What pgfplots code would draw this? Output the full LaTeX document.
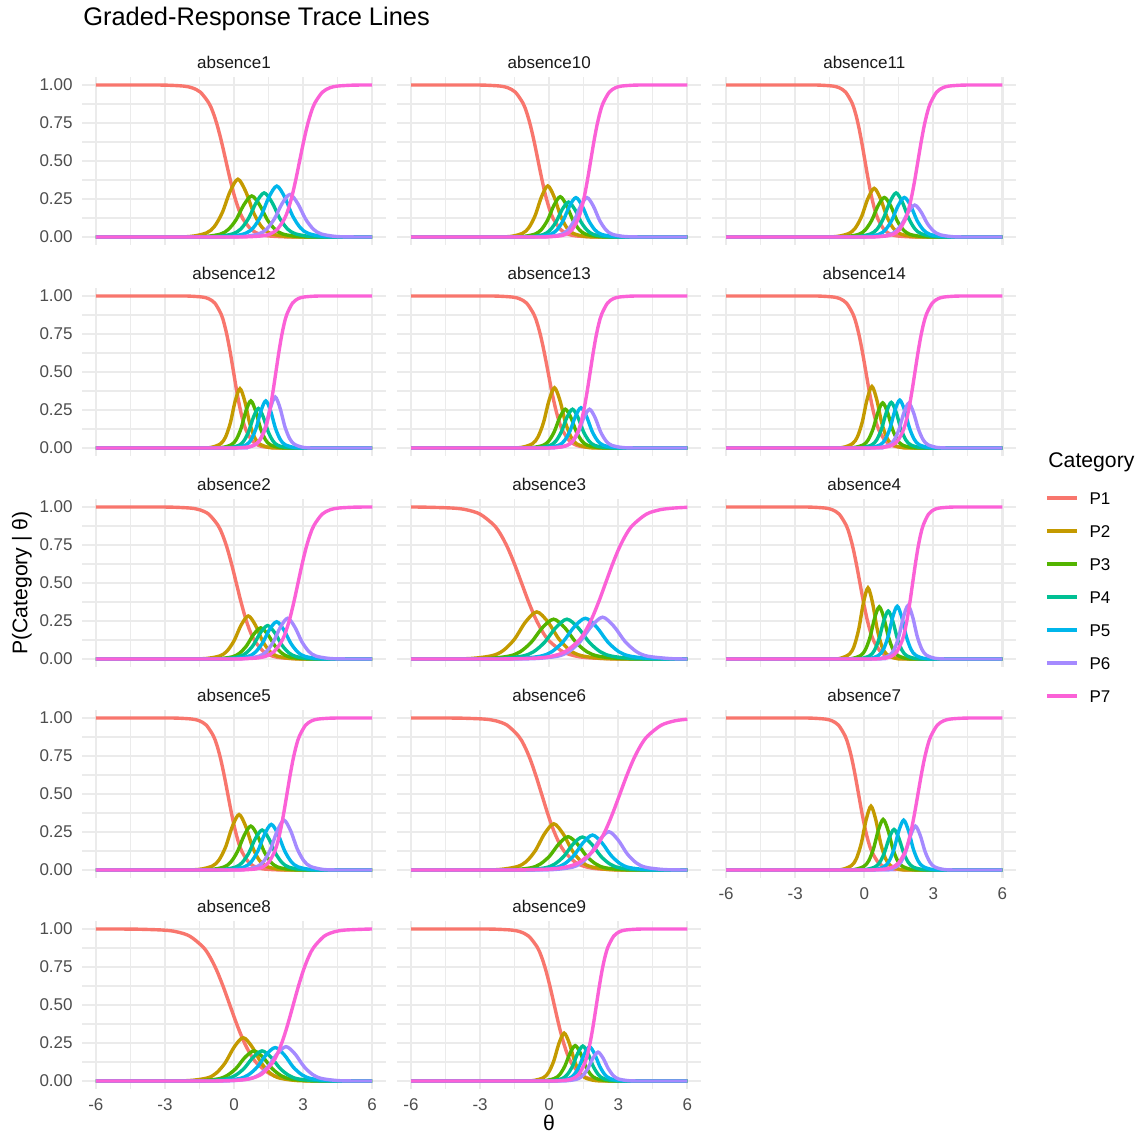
\documentclass[border=0pt]{standalone}
\usepackage{fontspec}
\setmainfont{Liberation Sans}
\usepackage{pgfplots}
\pgfplotsset{compat=1.18}

\definecolor{c1}{HTML}{F8766D}
\definecolor{c2}{HTML}{C49A00}
\definecolor{c3}{HTML}{53B400}
\definecolor{c4}{HTML}{00C094}
\definecolor{c5}{HTML}{00B6EB}
\definecolor{c6}{HTML}{A58AFF}
\definecolor{c7}{HTML}{FB61D7}
\definecolor{gridc}{HTML}{EBEBEB}
\definecolor{tickc}{HTML}{4D4D4D}
\definecolor{stripc}{HTML}{1A1A1A}

\pgfplotsset{
  panel/.style={
    scale only axis, width=152pt, height=83.6pt, anchor=north west,
    xmin=-6.6, xmax=6.6, ymin=-0.05, ymax=1.05,
    axis line style={draw=none}, tick style={draw=none},
    major tick length=0pt, minor tick length=0pt,
    xtick={-6,-3,0,3,6}, ytick={0,0.25,0.5,0.75,1},
    minor xtick={-4.5,-1.5,1.5,4.5}, minor ytick={0.125,0.375,0.625,0.875},
    grid=both,
    major grid style={line width=1.1pt, draw=gridc},
    minor grid style={line width=0.55pt, draw=gridc},
    xticklabels={}, yticklabels={},
    tick label style={font=\fontsize{8.5}{10}\selectfont, text=tickc, inner sep=0pt},
    yticklabel style={xshift=-4.5pt},
    xticklabel style={yshift=-4.7pt},
    title style={at={(0.5,1)}, anchor=base, yshift=-1.3pt, inner sep=0pt,
      font=\fontsize{8.5}{10}\selectfont, text=stripc},
  },
  ylab/.style={yticklabels={0.00,0.25,0.50,0.75,1.00}},
  xlab/.style={xticklabels={-6,-3,0,3,6}},
  p1/.style={color=c1, line width=1.7pt, smooth, mark=none},
  p2/.style={color=c2, line width=1.7pt, smooth, mark=none},
  p3/.style={color=c3, line width=1.7pt, smooth, mark=none},
  p4/.style={color=c4, line width=1.7pt, smooth, mark=none},
  p5/.style={color=c5, line width=1.7pt, smooth, mark=none},
  p6/.style={color=c6, line width=1.7pt, smooth, mark=none},
  p7/.style={color=c7, line width=1.7pt, smooth, mark=none},
}

\begin{document}
\begin{tikzpicture}
\path[use as bounding box] (0pt,0pt) rectangle (570pt,-567.5pt);
\node[anchor=west, inner sep=0pt, font=\fontsize{12.7}{15}\selectfont] at (41.5pt,-9.5pt) {Graded-Response Trace Lines};
\node[rotate=90, inner sep=0pt, font=\fontsize{10.6}{12}\selectfont] at (11pt,-291.5pt) {P(Category | θ)};
\node[inner sep=0pt, font=\fontsize{10.6}{12}\selectfont] at (274.5pt,-561.5pt) {θ};
\node[anchor=west, inner sep=0pt, font=\fontsize{10.6}{12}\selectfont] at (524pt,-231pt) {Category};

% row 1
\begin{axis}[panel, ylab, at={(41pt,-38.7pt)}, title={absence1}]
\addplot[p1] coordinates {(-6,1) (-3.68,1) (-2.94,0.999) (-2.20,0.993) (-1.83,0.982) (-1.46,0.953) (-1.09,0.881) (-0.905,0.818) (-0.72,0.731) (-0.535,0.622) (-0.35,0.5) (-0.165,0.378) (0.02,0.269) (0.205,0.182) (0.39,0.119) (0.76,0.047) (1.13,0.018) (1.50,0.007) (2.24,0.001) (2.98,0) (6,0)};
\addplot[p2] coordinates {(-6,0) (-2.89,0) (-1.87,0.004) (-1.19,0.027) (-0.85,0.069) (-0.51,0.160) (-0.17,0.299) (0.17,0.380) (0.51,0.299) (0.85,0.160) (1.19,0.069) (1.53,0.027) (2.21,0.004) (3.23,0) (6,0)};
\addplot[p3] coordinates {(-6,0) (-2.29,0) (-1.27,0.003) (-0.59,0.019) (-0.25,0.049) (0.09,0.113) (0.43,0.212) (0.77,0.270) (1.11,0.212) (1.45,0.113) (1.79,0.049) (2.13,0.019) (2.81,0.003) (3.83,0) (6,0)};
\addplot[p4] coordinates {(-6,0) (-1.75,0) (-0.73,0.003) (-0.05,0.021) (0.29,0.052) (0.63,0.122) (0.97,0.228) (1.31,0.290) (1.65,0.228) (1.99,0.122) (2.33,0.052) (2.67,0.021) (3.35,0.003) (4.37,0) (6,0)};
\addplot[p5] coordinates {(-6,0) (-1.20,0) (-0.18,0.003) (0.50,0.024) (0.84,0.061) (1.18,0.141) (1.52,0.263) (1.86,0.335) (2.20,0.263) (2.54,0.141) (2.88,0.061) (3.22,0.024) (3.90,0.003) (4.92,0) (6,0)};
\addplot[p6] coordinates {(-6,0) (-0.63,0) (0.39,0.003) (1.07,0.020) (1.41,0.051) (1.75,0.118) (2.09,0.220) (2.43,0.280) (2.77,0.220) (3.11,0.118) (3.45,0.051) (3.79,0.020) (4.47,0.003) (5.49,0) (6,0)};
\addplot[p7] coordinates {(-6,0) (-0.12,0) (0.54,0.001) (1.20,0.007) (1.53,0.018) (1.86,0.047) (2.19,0.119) (2.355,0.182) (2.52,0.269) (2.685,0.378) (2.85,0.5) (3.015,0.622) (3.18,0.731) (3.345,0.818) (3.51,0.881) (3.84,0.953) (4.17,0.982) (4.50,0.993) (5.16,0.999) (5.82,1) (6,1)};
\end{axis}

\begin{axis}[panel, at={(198.6pt,-38.7pt)}, title={absence10}]
\addplot[p1] coordinates {(-6,1) (-3.45,1) (-2.79,0.999) (-2.13,0.993) (-1.80,0.982) (-1.47,0.953) (-1.14,0.881) (-0.975,0.818) (-0.81,0.731) (-0.645,0.622) (-0.48,0.5) (-0.315,0.378) (-0.15,0.269) (0.015,0.182) (0.18,0.119) (0.51,0.047) (0.84,0.018) (1.17,0.007) (1.83,0.001) (2.49,0) (6,0)};
\addplot[p2] coordinates {(-6,0) (-2.535,0) (-1.71,0.003) (-1.16,0.024) (-0.885,0.061) (-0.61,0.141) (-0.335,0.264) (-0.06,0.336) (0.215,0.264) (0.49,0.141) (0.765,0.061) (1.04,0.024) (1.59,0.003) (2.415,0) (6,0)};
\addplot[p3] coordinates {(-6,0) (-1.995,0) (-1.17,0.003) (-0.62,0.019) (-0.345,0.048) (-0.07,0.111) (0.205,0.208) (0.48,0.265) (0.755,0.208) (1.03,0.111) (1.305,0.048) (1.58,0.019) (2.13,0.003) (2.955,0) (6,0)};
\addplot[p4] coordinates {(-6,0) (-1.635,0) (-0.81,0.002) (-0.26,0.016) (0.015,0.042) (0.29,0.097) (0.565,0.181) (0.84,0.230) (1.115,0.181) (1.39,0.097) (1.665,0.042) (1.94,0.016) (2.49,0.002) (3.315,0) (6,0)};
\addplot[p5] coordinates {(-6,0) (-1.315,0) (-0.49,0.003) (0.06,0.018) (0.335,0.047) (0.61,0.109) (0.885,0.204) (1.16,0.259) (1.435,0.204) (1.71,0.109) (1.985,0.047) (2.26,0.018) (2.81,0.003) (3.635,0) (6,0)};
\addplot[p6] coordinates {(-6,0) (-0.835,0) (-0.01,0.003) (0.54,0.018) (0.815,0.047) (1.09,0.109) (1.365,0.204) (1.64,0.259) (1.915,0.204) (2.19,0.109) (2.465,0.047) (2.74,0.018) (3.29,0.003) (4.115,0) (6,0)};
\addplot[p7] coordinates {(-6,0) (-0.63,0) (-0.09,0.001) (0.45,0.007) (0.72,0.018) (0.99,0.047) (1.26,0.119) (1.395,0.182) (1.53,0.269) (1.665,0.378) (1.80,0.5) (1.935,0.622) (2.07,0.731) (2.205,0.818) (2.34,0.881) (2.61,0.953) (2.88,0.982) (3.15,0.993) (3.69,0.999) (4.23,1) (6,1)};
\end{axis}

\begin{axis}[panel, at={(356.15pt,-38.7pt)}, title={absence11}]
\addplot[p1] coordinates {(-6,1) (-2.49,1) (-1.93,0.999) (-1.37,0.993) (-1.09,0.982) (-0.81,0.953) (-0.53,0.881) (-0.39,0.818) (-0.25,0.731) (-0.11,0.622) (0.03,0.5) (0.17,0.378) (0.31,0.269) (0.45,0.182) (0.59,0.119) (0.87,0.047) (1.15,0.018) (1.43,0.007) (1.99,0.001) (2.55,0) (6,0)};
\addplot[p2] coordinates {(-6,0) (-2.045,0) (-1.22,0.003) (-0.67,0.023) (-0.395,0.058) (-0.12,0.134) (0.155,0.252) (0.43,0.320) (0.705,0.252) (0.98,0.134) (1.255,0.058) (1.53,0.023) (2.08,0.003) (2.905,0) (6,0)};
\addplot[p3] coordinates {(-6,0) (-1.605,0) (-0.78,0.003) (-0.23,0.018) (0.045,0.047) (0.32,0.109) (0.595,0.205) (0.87,0.260) (1.145,0.205) (1.42,0.109) (1.695,0.047) (1.97,0.018) (2.52,0.003) (3.345,0) (6,0)};
\addplot[p4] coordinates {(-6,0) (-1.095,0) (-0.27,0.003) (0.28,0.021) (0.555,0.052) (0.83,0.122) (1.105,0.228) (1.38,0.290) (1.655,0.228) (1.93,0.122) (2.205,0.052) (2.48,0.021) (3.03,0.003) (3.855,0) (6,0)};
\addplot[p5] coordinates {(-6,0) (-0.735,0) (0.09,0.003) (0.64,0.018) (0.915,0.047) (1.19,0.109) (1.465,0.205) (1.74,0.260) (2.015,0.205) (2.29,0.109) (2.565,0.047) (2.84,0.018) (3.39,0.003) (4.215,0) (6,0)};
\addplot[p6] coordinates {(-6,0) (-0.285,0) (0.54,0.002) (1.09,0.015) (1.365,0.038) (1.64,0.088) (1.915,0.165) (2.19,0.210) (2.465,0.165) (2.74,0.088) (3.015,0.038) (3.29,0.015) (3.84,0.002) (4.665,0) (6,0)};
\addplot[p7] coordinates {(-6,0) (-0.10,0) (0.44,0.001) (0.98,0.007) (1.25,0.018) (1.52,0.047) (1.79,0.119) (1.925,0.182) (2.06,0.269) (2.195,0.378) (2.33,0.5) (2.465,0.622) (2.60,0.731) (2.735,0.818) (2.87,0.881) (3.14,0.953) (3.41,0.982) (3.68,0.993) (4.22,0.999) (4.76,1) (6,1)};
\end{axis}

% row 2
\begin{axis}[panel, ylab, at={(41pt,-144.2pt)}, title={absence12}]
\addplot[p1] coordinates {(-6,1) (-2.45,1) (-1.91,0.999) (-1.37,0.993) (-1.10,0.982) (-0.83,0.953) (-0.56,0.881) (-0.425,0.818) (-0.29,0.731) (-0.155,0.622) (-0.02,0.5) (0.115,0.378) (0.25,0.269) (0.385,0.182) (0.52,0.119) (0.79,0.047) (1.06,0.018) (1.33,0.007) (1.87,0.001) (2.41,0) (6,0)};
\addplot[p2] coordinates {(-6,0) (-1.63,0) (-1.00,0.004) (-0.58,0.028) (-0.37,0.071) (-0.16,0.164) (0.05,0.307) (0.26,0.390) (0.47,0.307) (0.68,0.164) (0.89,0.071) (1.10,0.028) (1.52,0.004) (2.15,0) (6,0)};
\addplot[p3] coordinates {(-6,0) (-1.16,0) (-0.53,0.003) (-0.11,0.022) (0.10,0.056) (0.31,0.130) (0.52,0.244) (0.73,0.310) (0.94,0.244) (1.15,0.130) (1.36,0.056) (1.57,0.022) (1.99,0.003) (2.62,0) (6,0)};
\addplot[p4] coordinates {(-6,0) (-0.83,0) (-0.20,0.003) (0.22,0.018) (0.43,0.047) (0.64,0.109) (0.85,0.205) (1.06,0.260) (1.27,0.205) (1.48,0.109) (1.69,0.047) (1.90,0.018) (2.32,0.003) (2.95,0) (6,0)};
\addplot[p5] coordinates {(-6,0) (-0.51,0) (0.12,0.003) (0.54,0.022) (0.75,0.056) (0.96,0.130) (1.17,0.244) (1.38,0.310) (1.59,0.244) (1.80,0.130) (2.01,0.056) (2.22,0.022) (2.64,0.003) (3.27,0) (6,0)};
\addplot[p6] coordinates {(-6,0) (-0.10,0) (0.53,0.003) (0.95,0.024) (1.16,0.061) (1.37,0.141) (1.58,0.263) (1.79,0.335) (2.00,0.263) (2.21,0.141) (2.42,0.061) (2.63,0.024) (3.05,0.003) (3.68,0) (6,0)};
\addplot[p7] coordinates {(-6,0) (-0.34,0) (0.14,0.001) (0.62,0.007) (0.86,0.018) (1.10,0.047) (1.34,0.119) (1.46,0.182) (1.58,0.269) (1.70,0.378) (1.82,0.5) (1.94,0.622) (2.06,0.731) (2.18,0.818) (2.30,0.881) (2.54,0.953) (2.78,0.982) (3.02,0.993) (3.50,0.999) (3.98,1) (6,1)};
\end{axis}

\begin{axis}[panel, at={(198.6pt,-144.2pt)}, title={absence13}]
\addplot[p1] coordinates {(-6,1) (-2.84,1) (-2.22,0.999) (-1.60,0.993) (-1.29,0.982) (-0.98,0.953) (-0.67,0.881) (-0.515,0.818) (-0.36,0.731) (-0.205,0.622) (-0.05,0.5) (0.105,0.378) (0.26,0.269) (0.415,0.182) (0.57,0.119) (0.88,0.047) (1.19,0.018) (1.50,0.007) (2.12,0.001) (2.74,0) (6,0)};
\addplot[p2] coordinates {(-6,0) (-1.93,0) (-1.21,0.004) (-0.73,0.028) (-0.49,0.072) (-0.25,0.166) (-0.01,0.311) (0.23,0.396) (0.47,0.311) (0.71,0.166) (0.95,0.072) (1.19,0.028) (1.67,0.004) (2.39,0) (6,0)};
\addplot[p3] coordinates {(-6,0) (-1.46,0) (-0.74,0.003) (-0.26,0.018) (-0.02,0.046) (0.22,0.107) (0.46,0.201) (0.70,0.255) (0.94,0.201) (1.18,0.107) (1.42,0.046) (1.66,0.018) (2.14,0.003) (2.86,0) (6,0)};
\addplot[p4] coordinates {(-6,0) (-1.15,0) (-0.43,0.003) (0.05,0.018) (0.29,0.046) (0.53,0.107) (0.77,0.201) (1.01,0.255) (1.25,0.201) (1.49,0.107) (1.73,0.046) (1.97,0.018) (2.45,0.003) (3.17,0) (6,0)};
\addplot[p5] coordinates {(-6,0) (-0.78,0) (-0.06,0.003) (0.42,0.019) (0.66,0.048) (0.90,0.111) (1.14,0.208) (1.38,0.265) (1.62,0.208) (1.86,0.111) (2.10,0.048) (2.34,0.019) (2.82,0.003) (3.54,0) (6,0)};
\addplot[p6] coordinates {(-6,0) (-0.41,0) (0.31,0.003) (0.79,0.018) (1.03,0.046) (1.27,0.107) (1.51,0.201) (1.75,0.255) (1.99,0.201) (2.23,0.107) (2.47,0.046) (2.71,0.018) (3.19,0.003) (3.91,0) (6,0)};
\addplot[p7] coordinates {(-6,0) (-0.47,0) (0.03,0.001) (0.53,0.007) (0.78,0.018) (1.03,0.047) (1.28,0.119) (1.405,0.182) (1.53,0.269) (1.655,0.378) (1.78,0.5) (1.905,0.622) (2.03,0.731) (2.155,0.818) (2.28,0.881) (2.53,0.953) (2.78,0.982) (3.03,0.993) (3.53,0.999) (4.03,1) (6,1)};
\end{axis}

\begin{axis}[panel, at={(356.15pt,-144.2pt)}, title={absence14}]
\addplot[p1] coordinates {(-6,1) (-2.45,1) (-1.89,0.999) (-1.33,0.993) (-1.05,0.982) (-0.77,0.953) (-0.49,0.881) (-0.35,0.818) (-0.21,0.731) (-0.07,0.622) (0.07,0.5) (0.21,0.378) (0.35,0.269) (0.49,0.182) (0.63,0.119) (0.91,0.047) (1.19,0.018) (1.47,0.007) (2.03,0.001) (2.59,0) (6,0)};
\addplot[p2] coordinates {(-6,0) (-1.56,0) (-0.93,0.004) (-0.51,0.029) (-0.30,0.073) (-0.09,0.170) (0.12,0.319) (0.33,0.405) (0.54,0.319) (0.75,0.170) (0.96,0.073) (1.17,0.029) (1.59,0.004) (2.22,0) (6,0)};
\addplot[p3] coordinates {(-6,0) (-1.09,0) (-0.46,0.003) (-0.04,0.021) (0.17,0.054) (0.38,0.125) (0.59,0.234) (0.80,0.297) (1.01,0.234) (1.22,0.125) (1.43,0.054) (1.64,0.021) (2.06,0.003) (2.69,0) (6,0)};
\addplot[p4] coordinates {(-6,0) (-0.72,0) (-0.09,0.003) (0.33,0.021) (0.54,0.054) (0.75,0.126) (0.96,0.236) (1.17,0.300) (1.38,0.236) (1.59,0.126) (1.80,0.054) (2.01,0.021) (2.43,0.003) (3.06,0) (6,0)};
\addplot[p5] coordinates {(-6,0) (-0.35,0) (0.28,0.003) (0.70,0.022) (0.91,0.057) (1.12,0.132) (1.33,0.248) (1.54,0.315) (1.75,0.248) (1.96,0.132) (2.17,0.057) (2.38,0.022) (2.80,0.003) (3.43,0) (6,0)};
\addplot[p6] coordinates {(-6,0) (0.04,0) (0.67,0.003) (1.09,0.021) (1.30,0.053) (1.51,0.124) (1.72,0.232) (1.93,0.295) (2.14,0.232) (2.35,0.124) (2.56,0.053) (2.77,0.021) (3.19,0.003) (3.82,0) (6,0)};
\addplot[p7] coordinates {(-6,0) (-0.05,0) (0.45,0.001) (0.95,0.007) (1.20,0.018) (1.45,0.047) (1.70,0.119) (1.825,0.182) (1.95,0.269) (2.075,0.378) (2.20,0.5) (2.325,0.622) (2.45,0.731) (2.575,0.818) (2.70,0.881) (2.95,0.953) (3.20,0.982) (3.45,0.993) (3.95,0.999) (4.45,1) (6,1)};
\end{axis}

% row 3
\begin{axis}[panel, ylab, at={(41pt,-249.7pt)}, title={absence2}]
\addplot[p1] coordinates {(-6,1) (-3.50,1) (-2.70,0.999) (-1.90,0.993) (-1.50,0.982) (-1.10,0.953) (-0.70,0.881) (-0.50,0.818) (-0.30,0.731) (-0.10,0.622) (0.10,0.5) (0.30,0.378) (0.50,0.269) (0.70,0.182) (0.90,0.119) (1.30,0.047) (1.70,0.018) (2.10,0.007) (2.90,0.001) (3.70,0) (6,0)};
\addplot[p2] coordinates {(-6,0) (-2.17,0) (-1.24,0.003) (-0.62,0.020) (-0.31,0.051) (0.00,0.119) (0.31,0.223) (0.62,0.283) (0.93,0.223) (1.24,0.119) (1.55,0.051) (1.86,0.020) (2.48,0.003) (3.41,0) (6,0)};
\addplot[p3] coordinates {(-6,0) (-1.63,0) (-0.70,0.002) (-0.08,0.014) (0.23,0.037) (0.54,0.086) (0.85,0.161) (1.16,0.205) (1.47,0.161) (1.78,0.086) (2.09,0.037) (2.40,0.014) (3.02,0.002) (3.95,0) (6,0)};
\addplot[p4] coordinates {(-6,0) (-1.33,0) (-0.40,0.002) (0.22,0.016) (0.53,0.040) (0.84,0.092) (1.15,0.173) (1.46,0.220) (1.77,0.173) (2.08,0.092) (2.39,0.040) (2.70,0.016) (3.32,0.002) (4.25,0) (6,0)};
\addplot[p5] coordinates {(-6,0) (-0.94,0) (-0.01,0.002) (0.61,0.017) (0.92,0.044) (1.23,0.103) (1.54,0.193) (1.85,0.245) (2.16,0.193) (2.47,0.103) (2.78,0.044) (3.09,0.017) (3.71,0.002) (4.64,0) (6,0)};
\addplot[p6] coordinates {(-6,0) (-0.46,0) (0.47,0.003) (1.09,0.019) (1.40,0.048) (1.71,0.113) (2.02,0.211) (2.33,0.268) (2.64,0.211) (2.95,0.113) (3.26,0.048) (3.57,0.019) (4.19,0.003) (5.12,0) (6,0)};
\addplot[p7] coordinates {(-6,0) (-0.37,0) (0.33,0.001) (1.03,0.007) (1.38,0.018) (1.73,0.047) (2.08,0.119) (2.255,0.182) (2.43,0.269) (2.605,0.378) (2.78,0.5) (2.955,0.622) (3.13,0.731) (3.305,0.818) (3.48,0.881) (3.83,0.953) (4.18,0.982) (4.53,0.993) (5.23,0.999) (5.93,1) (6,1)};
\end{axis}

\begin{axis}[panel, at={(198.6pt,-249.7pt)}, title={absence3}]
\addplot[p1] coordinates {(-6,1) (-5.40,0.999) (-4.20,0.993) (-3.60,0.982) (-3.00,0.953) (-2.40,0.881) (-2.10,0.818) (-1.80,0.731) (-1.50,0.622) (-1.20,0.5) (-0.90,0.378) (-0.60,0.269) (-0.30,0.182) (0.00,0.119) (0.60,0.047) (1.20,0.018) (1.80,0.007) (3.00,0.001) (4.20,0) (6,0)};
\addplot[p2] coordinates {(-6,0) (-4.905,0) (-3.45,0.003) (-2.48,0.022) (-1.995,0.056) (-1.51,0.130) (-1.025,0.244) (-0.54,0.310) (-0.055,0.244) (0.43,0.130) (0.915,0.056) (1.40,0.022) (2.37,0.003) (3.825,0) (6,0)};
\addplot[p3] coordinates {(-6,0) (-4.175,0) (-2.72,0.003) (-1.75,0.019) (-1.265,0.047) (-0.78,0.110) (-0.295,0.206) (0.19,0.262) (0.675,0.206) (1.16,0.110) (1.645,0.047) (2.13,0.019) (3.10,0.003) (4.555,0) (6,0)};
\addplot[p4] coordinates {(-6,0) (-3.595,0) (-2.14,0.003) (-1.17,0.019) (-0.685,0.047) (-0.20,0.110) (0.285,0.206) (0.77,0.262) (1.255,0.206) (1.74,0.110) (2.225,0.047) (2.71,0.019) (3.68,0.003) (5.135,0) (6,0)};
\addplot[p5] coordinates {(-6,0) (-2.795,0) (-1.34,0.003) (-0.37,0.019) (0.115,0.048) (0.60,0.113) (1.085,0.211) (1.57,0.268) (2.055,0.211) (2.54,0.113) (3.025,0.048) (3.51,0.019) (4.48,0.003) (6,0)};
\addplot[p6] coordinates {(-6,0) (-2.045,0) (-0.59,0.003) (0.38,0.019) (0.865,0.050) (1.35,0.116) (1.835,0.216) (2.32,0.275) (2.805,0.216) (3.29,0.116) (3.775,0.050) (4.26,0.019) (5.23,0.003) (6,0)};
\addplot[p7] coordinates {(-6,0) (-2.86,0) (-1.68,0.001) (-0.50,0.007) (0.09,0.018) (0.68,0.047) (1.27,0.119) (1.565,0.182) (1.86,0.269) (2.155,0.378) (2.45,0.5) (2.745,0.622) (3.04,0.731) (3.335,0.818) (3.63,0.881) (4.22,0.953) (4.81,0.982) (5.40,0.993) (6,0.998)};
\end{axis}

\begin{axis}[panel, at={(356.15pt,-249.7pt)}, title={absence4},
  legend entries={P1,P2,P3,P4,P5,P6,P7},
  legend cell align=left,
  legend style={draw=none, fill=none, at={(1.095,1.0455)}, anchor=north west,
    inner sep=0pt, outer sep=0pt, row sep=10.3pt, column sep=5.5pt,
    font=\fontsize{8.5}{10}\selectfont,
    nodes={inner sep=0pt, text height=6.2pt, text depth=0pt}},
  legend image code/.code={\draw[#1, sharp plot] (0pt,0pt) -- (15pt,0pt);}]
\addplot[p1] coordinates {(-6,1) (-2.89,1) (-2.29,0.999) (-1.69,0.993) (-1.39,0.982) (-1.09,0.953) (-0.79,0.881) (-0.64,0.818) (-0.49,0.731) (-0.34,0.622) (-0.19,0.5) (-0.04,0.378) (0.11,0.269) (0.26,0.182) (0.41,0.119) (0.71,0.047) (1.01,0.018) (1.31,0.007) (1.91,0.001) (2.51,0) (6,0)};
\addplot[p2] coordinates {(-6,0) (-1.64,0) (-1.04,0.005) (-0.64,0.033) (-0.44,0.085) (-0.24,0.197) (-0.04,0.368) (0.16,0.468) (0.36,0.368) (0.56,0.197) (0.76,0.085) (0.96,0.033) (1.36,0.005) (1.96,0) (6,0)};
\addplot[p3] coordinates {(-6,0) (-1.15,0) (-0.55,0.003) (-0.15,0.024) (0.05,0.062) (0.25,0.144) (0.45,0.270) (0.65,0.343) (0.85,0.270) (1.05,0.144) (1.25,0.062) (1.45,0.024) (1.85,0.003) (2.45,0) (6,0)};
\addplot[p4] coordinates {(-6,0) (-0.76,0) (-0.16,0.003) (0.24,0.022) (0.44,0.057) (0.64,0.132) (0.84,0.248) (1.04,0.315) (1.24,0.248) (1.44,0.132) (1.64,0.057) (1.84,0.022) (2.24,0.003) (2.84,0) (6,0)};
\addplot[p5] coordinates {(-6,0) (-0.37,0) (0.23,0.003) (0.63,0.025) (0.83,0.063) (1.03,0.146) (1.23,0.273) (1.43,0.347) (1.63,0.273) (1.83,0.146) (2.03,0.063) (2.23,0.025) (2.63,0.003) (3.23,0) (6,0)};
\addplot[p6] coordinates {(-6,0) (0.10,0) (0.70,0.004) (1.10,0.025) (1.30,0.064) (1.50,0.148) (1.70,0.277) (1.90,0.352) (2.10,0.277) (2.30,0.148) (2.50,0.064) (2.70,0.025) (3.10,0.004) (3.70,0) (6,0)};
\addplot[p7] coordinates {(-6,0) (0.03,0) (0.49,0.001) (0.95,0.007) (1.18,0.018) (1.41,0.047) (1.64,0.119) (1.755,0.182) (1.87,0.269) (1.985,0.378) (2.10,0.5) (2.215,0.622) (2.33,0.731) (2.445,0.818) (2.56,0.881) (2.79,0.953) (3.02,0.982) (3.25,0.993) (3.71,0.999) (4.17,1) (6,1)};
\end{axis}

% row 4
\begin{axis}[panel, ylab, at={(41pt,-355.2pt)}, title={absence5}]
\addplot[p1] coordinates {(-6,1) (-3.06,1) (-2.44,0.999) (-1.82,0.993) (-1.51,0.982) (-1.20,0.953) (-0.89,0.881) (-0.735,0.818) (-0.58,0.731) (-0.425,0.622) (-0.27,0.5) (-0.115,0.378) (0.04,0.269) (0.195,0.182) (0.35,0.119) (0.66,0.047) (0.97,0.018) (1.28,0.007) (1.90,0.001) (2.52,0) (6,0)};
\addplot[p2] coordinates {(-6,0) (-2.39,0) (-1.52,0.004) (-0.94,0.026) (-0.65,0.066) (-0.36,0.153) (-0.07,0.287) (0.22,0.365) (0.51,0.287) (0.80,0.153) (1.09,0.066) (1.38,0.026) (1.96,0.004) (2.83,0) (6,0)};
\addplot[p3] coordinates {(-6,0) (-1.88,0) (-1.01,0.003) (-0.43,0.020) (-0.14,0.052) (0.15,0.121) (0.44,0.227) (0.73,0.289) (1.02,0.227) (1.31,0.121) (1.60,0.052) (1.89,0.020) (2.47,0.003) (3.34,0) (6,0)};
\addplot[p4] coordinates {(-6,0) (-1.39,0) (-0.52,0.003) (0.06,0.019) (0.35,0.048) (0.64,0.111) (0.93,0.207) (1.22,0.263) (1.51,0.207) (1.80,0.111) (2.09,0.048) (2.38,0.019) (2.96,0.003) (3.83,0) (6,0)};
\addplot[p5] coordinates {(-6,0) (-0.99,0) (-0.12,0.003) (0.46,0.021) (0.75,0.054) (1.04,0.126) (1.33,0.236) (1.62,0.300) (1.91,0.236) (2.20,0.126) (2.49,0.054) (2.78,0.021) (3.36,0.003) (4.23,0) (6,0)};
\addplot[p6] coordinates {(-6,0) (-0.44,0) (0.43,0.003) (1.01,0.023) (1.30,0.059) (1.59,0.138) (1.88,0.258) (2.17,0.328) (2.46,0.258) (2.75,0.138) (3.04,0.059) (3.33,0.023) (3.91,0.003) (4.78,0) (6,0)};
\addplot[p7] coordinates {(-6,0) (-0.13,0) (0.41,0.001) (0.95,0.007) (1.22,0.018) (1.49,0.047) (1.76,0.119) (1.895,0.182) (2.03,0.269) (2.165,0.378) (2.30,0.5) (2.435,0.622) (2.57,0.731) (2.705,0.818) (2.84,0.881) (3.11,0.953) (3.38,0.982) (3.65,0.993) (4.19,0.999) (4.73,1) (6,1)};
\end{axis}

\begin{axis}[panel, at={(198.6pt,-355.2pt)}, title={absence6}]
\addplot[p1] coordinates {(-6,1) (-4.83,1) (-3.83,0.999) (-2.83,0.993) (-2.33,0.982) (-1.83,0.953) (-1.33,0.881) (-1.08,0.818) (-0.83,0.731) (-0.58,0.622) (-0.33,0.5) (-0.08,0.378) (0.17,0.269) (0.42,0.182) (0.67,0.119) (1.17,0.047) (1.67,0.018) (2.17,0.007) (3.17,0.001) (4.17,0) (6,0)};
\addplot[p2] coordinates {(-6,0) (-3.40,0) (-2.20,0.003) (-1.40,0.022) (-1.00,0.055) (-0.60,0.128) (-0.20,0.239) (0.20,0.304) (0.60,0.239) (1.00,0.128) (1.40,0.055) (1.80,0.022) (2.60,0.003) (3.80,0) (6,0)};
\addplot[p3] coordinates {(-6,0) (-2.78,0) (-1.58,0.002) (-0.78,0.015) (-0.38,0.040) (0.02,0.092) (0.42,0.172) (0.82,0.219) (1.22,0.172) (1.62,0.092) (2.02,0.040) (2.42,0.015) (3.22,0.002) (4.42,0) (6,0)};
\addplot[p4] coordinates {(-6,0) (-2.16,0) (-0.96,0.002) (-0.16,0.015) (0.24,0.039) (0.64,0.091) (1.04,0.171) (1.44,0.217) (1.84,0.171) (2.24,0.091) (2.64,0.039) (3.04,0.015) (3.84,0.002) (5.04,0) (6,0)};
\addplot[p5] coordinates {(-6,0) (-1.72,0) (-0.52,0.002) (0.28,0.016) (0.68,0.042) (1.08,0.097) (1.48,0.181) (1.88,0.230) (2.28,0.181) (2.68,0.097) (3.08,0.042) (3.48,0.016) (4.28,0.002) (5.48,0) (6,0)};
\addplot[p6] coordinates {(-6,0) (-1.01,0) (0.19,0.003) (0.99,0.018) (1.39,0.046) (1.79,0.106) (2.19,0.198) (2.59,0.252) (2.99,0.198) (3.39,0.106) (3.79,0.046) (4.19,0.018) (4.99,0.003) (6,0)};
\addplot[p7] coordinates {(-6,0) (-2.33,0) (-1.13,0.001) (0.07,0.007) (0.67,0.018) (1.27,0.047) (1.87,0.119) (2.17,0.182) (2.47,0.269) (2.77,0.378) (3.07,0.5) (3.37,0.622) (3.67,0.731) (3.97,0.818) (4.27,0.881) (4.87,0.953) (5.47,0.982) (6,0.992)};
\end{axis}

\begin{axis}[panel, xlab, at={(356.15pt,-355.2pt)}, title={absence7}]
\addplot[p1] coordinates {(-6,1) (-2.86,1) (-2.28,0.999) (-1.70,0.993) (-1.41,0.982) (-1.12,0.953) (-0.83,0.881) (-0.685,0.818) (-0.54,0.731) (-0.395,0.622) (-0.25,0.5) (-0.105,0.378) (0.04,0.269) (0.185,0.182) (0.33,0.119) (0.62,0.047) (0.91,0.018) (1.20,0.007) (1.78,0.001) (2.36,0) (6,0)};
\addplot[p2] coordinates {(-6,0) (-1.60,0) (-0.97,0.004) (-0.55,0.030) (-0.34,0.076) (-0.13,0.176) (0.08,0.330) (0.29,0.420) (0.50,0.330) (0.71,0.176) (0.92,0.076) (1.13,0.030) (1.55,0.004) (2.18,0) (6,0)};
\addplot[p3] coordinates {(-6,0) (-1.07,0) (-0.44,0.003) (-0.02,0.024) (0.19,0.060) (0.40,0.140) (0.61,0.262) (0.82,0.333) (1.03,0.262) (1.24,0.140) (1.45,0.060) (1.66,0.024) (2.08,0.003) (2.71,0) (6,0)};
\addplot[p4] coordinates {(-6,0) (-0.60,0) (0.03,0.003) (0.45,0.019) (0.66,0.048) (0.87,0.112) (1.08,0.210) (1.29,0.267) (1.50,0.210) (1.71,0.112) (1.92,0.048) (2.13,0.019) (2.55,0.003) (3.18,0) (6,0)};
\addplot[p5] coordinates {(-6,0) (-0.18,0) (0.45,0.003) (0.87,0.023) (1.08,0.059) (1.29,0.138) (1.50,0.258) (1.71,0.328) (1.92,0.258) (2.13,0.138) (2.34,0.059) (2.55,0.023) (2.97,0.003) (3.60,0) (6,0)};
\addplot[p6] coordinates {(-6,0) (0.33,0) (0.96,0.003) (1.38,0.020) (1.59,0.052) (1.80,0.121) (2.01,0.227) (2.22,0.289) (2.43,0.227) (2.64,0.121) (2.85,0.052) (3.06,0.020) (3.48,0.003) (4.11,0) (6,0)};
\addplot[p7] coordinates {(-6,0) (-0.19,0) (0.37,0.001) (0.93,0.007) (1.21,0.018) (1.49,0.047) (1.77,0.119) (1.91,0.182) (2.05,0.269) (2.19,0.378) (2.33,0.5) (2.47,0.622) (2.61,0.731) (2.75,0.818) (2.89,0.881) (3.17,0.953) (3.45,0.982) (3.73,0.993) (4.29,0.999) (4.85,1) (6,1)};
\end{axis}

% row 5
\begin{axis}[panel, ylab, xlab, at={(41pt,-460.7pt)}, title={absence8}]
\addplot[p1] coordinates {(-6,1) (-5.40,1) (-4.24,0.999) (-3.08,0.993) (-2.50,0.982) (-1.92,0.953) (-1.34,0.881) (-1.05,0.818) (-0.76,0.731) (-0.47,0.622) (-0.18,0.5) (0.11,0.378) (0.40,0.269) (0.69,0.182) (0.98,0.119) (1.56,0.047) (2.14,0.018) (2.72,0.007) (3.88,0.001) (5.04,0) (6,0)};
\addplot[p2] coordinates {(-6,0) (-3.11,0) (-1.94,0.003) (-1.16,0.020) (-0.77,0.052) (-0.38,0.120) (0.01,0.224) (0.40,0.285) (0.79,0.224) (1.18,0.120) (1.57,0.052) (1.96,0.020) (2.74,0.003) (3.91,0) (6,0)};
\addplot[p3] coordinates {(-6,0) (-2.64,0) (-1.47,0.002) (-0.69,0.014) (-0.30,0.036) (0.09,0.083) (0.48,0.156) (0.87,0.198) (1.26,0.156) (1.65,0.083) (2.04,0.036) (2.43,0.014) (3.21,0.002) (4.38,0) (6,0)};
\addplot[p4] coordinates {(-6,0) (-2.29,0) (-1.12,0.002) (-0.34,0.014) (0.05,0.036) (0.44,0.083) (0.83,0.156) (1.22,0.198) (1.61,0.156) (2.00,0.083) (2.39,0.036) (2.78,0.014) (3.56,0.002) (4.73,0) (6,0)};
\addplot[p5] coordinates {(-6,0) (-1.72,0) (-0.55,0.002) (0.23,0.016) (0.62,0.040) (1.01,0.092) (1.40,0.173) (1.79,0.220) (2.18,0.173) (2.57,0.092) (2.96,0.040) (3.35,0.016) (4.13,0.002) (5.30,0) (6,0)};
\addplot[p6] coordinates {(-6,0) (-1.25,0) (-0.08,0.002) (0.70,0.016) (1.09,0.041) (1.48,0.095) (1.87,0.178) (2.26,0.226) (2.65,0.178) (3.04,0.095) (3.43,0.041) (3.82,0.016) (4.60,0.002) (5.77,0) (6,0)};
\addplot[p7] coordinates {(-6,0) (-1.48,0) (-0.58,0.001) (0.32,0.007) (0.77,0.018) (1.22,0.047) (1.67,0.119) (1.895,0.182) (2.12,0.269) (2.345,0.378) (2.57,0.5) (2.795,0.622) (3.02,0.731) (3.245,0.818) (3.47,0.881) (3.92,0.953) (4.37,0.982) (4.82,0.993) (5.72,0.999) (6,1)};
\end{axis}

\begin{axis}[panel, xlab, at={(198.6pt,-460.7pt)}, title={absence9}]
\addplot[p1] coordinates {(-6,1) (-3.11,1) (-2.37,0.999) (-1.63,0.993) (-1.26,0.982) (-0.89,0.953) (-0.52,0.881) (-0.335,0.818) (-0.15,0.731) (0.035,0.622) (0.22,0.5) (0.405,0.378) (0.59,0.269) (0.775,0.182) (0.96,0.119) (1.33,0.047) (1.70,0.018) (2.07,0.007) (2.81,0.001) (3.55,0) (6,0)};
\addplot[p2] coordinates {(-6,0) (-1.375,0) (-0.70,0.003) (-0.25,0.022) (-0.025,0.057) (0.20,0.132) (0.425,0.248) (0.65,0.315) (0.875,0.248) (1.10,0.132) (1.325,0.057) (1.55,0.022) (2.00,0.003) (2.675,0) (6,0)};
\addplot[p3] coordinates {(-6,0) (-0.895,0) (-0.22,0.002) (0.23,0.017) (0.455,0.042) (0.68,0.098) (0.905,0.183) (1.13,0.233) (1.355,0.183) (1.58,0.098) (1.805,0.042) (2.03,0.017) (2.48,0.002) (3.155,0) (6,0)};
\addplot[p4] coordinates {(-6,0) (-0.565,0) (0.11,0.002) (0.56,0.016) (0.785,0.042) (1.01,0.097) (1.235,0.181) (1.46,0.230) (1.685,0.181) (1.91,0.097) (2.135,0.042) (2.36,0.016) (2.81,0.002) (3.485,0) (6,0)};
\addplot[p5] coordinates {(-6,0) (-0.275,0) (0.40,0.002) (0.85,0.016) (1.075,0.041) (1.30,0.095) (1.525,0.177) (1.75,0.225) (1.975,0.177) (2.20,0.095) (2.425,0.041) (2.65,0.016) (3.10,0.002) (3.775,0) (6,0)};
\addplot[p6] coordinates {(-6,0) (0.095,0) (0.77,0.002) (1.22,0.013) (1.445,0.034) (1.67,0.080) (1.895,0.149) (2.12,0.190) (2.345,0.149) (2.57,0.080) (2.795,0.034) (3.02,0.013) (3.47,0.002) (4.145,0) (6,0)};
\addplot[p7] coordinates {(-6,0) (-0.20,0) (0.30,0.001) (0.80,0.007) (1.05,0.018) (1.30,0.047) (1.55,0.119) (1.675,0.182) (1.80,0.269) (1.925,0.378) (2.05,0.5) (2.175,0.622) (2.30,0.731) (2.425,0.818) (2.55,0.881) (2.80,0.953) (3.05,0.982) (3.30,0.993) (3.80,0.999) (4.30,1) (6,1)};
\end{axis}
\end{tikzpicture}
\end{document}
